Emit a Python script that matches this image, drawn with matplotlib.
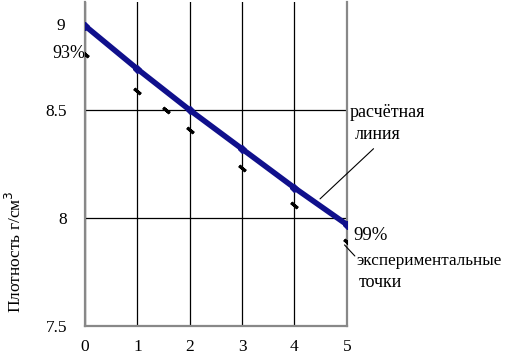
import matplotlib
matplotlib.use("Agg")
import matplotlib.pyplot as plt

# data
x_calc = [0, 1, 2, 3, 4, 5]
y_calc = [8.89, 8.69, 8.50, 8.32, 8.14, 7.97]   # расчётная линия
x_exp = [0, 1, 1.55, 2, 3, 4, 5]
y_exp = [8.76, 8.59, 8.50, 8.41, 8.23, 8.06, 7.89]  # экспериментальные точки

x_ticks = [0, 1, 2, 3, 4, 5]
y_ticks = [7.5, 8, 8.5]
y_tick_labels = ["7.5", "8", "8.5"]

plt.rcParams["font.family"] = ["Liberation Serif", "DejaVu Serif"]

fig = plt.figure(figsize=(5.13, 3.54), dpi=100)
ax = fig.add_axes([0.166, 0.079, 0.510, 0.915])

ax.plot(x_calc, y_calc, color="#10108c", lw=4, marker="D", ms=4.5, zorder=3)
ax.plot(x_exp, y_exp, ls="none", color="black", marker=(2, 2, 50),
        ms=6, mew=2.2, zorder=4)

ax.set_xlim(0, 5)
ax.set_ylim(7.5, 9.0)
ax.set_xticks(x_ticks)
ax.set_yticks(y_ticks)
ax.set_yticklabels(y_tick_labels)
ax.tick_params(length=0, labelsize=12.5)
ax.tick_params(axis="y", pad=13)
ax.tick_params(axis="x", pad=9)
ax.grid(True, color="black", lw=0.9)
for s in ["left", "bottom", "right"]:
    ax.spines[s].set_color("#888888")
    ax.spines[s].set_linewidth(1.6)
ax.spines["top"].set_visible(False)

# the "9" label sits lower in the original
ax.text(-0.38, y_calc[0], "9", ha="right", va="center", fontsize=12.5)

ax.text(0.0, 8.76, "93%", ha="right", va="center", fontsize=13)
ax.text(5.13, 7.92, "99%", ha="left", va="center", fontsize=13.5)
ax.text(5.06, 8.49, "расчётная", ha="left", va="center", fontsize=13,
        clip_on=False)
ax.text(5.15, 8.385, "линия", ha="left", va="center", fontsize=13,
        clip_on=False)
ax.text(5.18, 7.80, "экспериментальные", ha="left", va="center",
        fontsize=12.3, clip_on=False)
ax.text(5.23, 7.70, "точки", ha="left", va="center", fontsize=13,
        clip_on=False)

# leader lines
ax.annotate("", xy=(4.45, 8.08), xytext=(5.55, 8.33),
            arrowprops=dict(arrowstyle="-", color="black", lw=0.8),
            annotation_clip=False)
ax.annotate("", xy=(4.92, 7.885), xytext=(5.19, 7.815),
            arrowprops=dict(arrowstyle="-", color="black", lw=0.8),
            annotation_clip=False)

fig.text(0.03, 0.29, "Плотность г/см$^3$", rotation=90, ha="center",
         va="center", fontsize=12.5)

fig.savefig("out.png", dpi=100)
